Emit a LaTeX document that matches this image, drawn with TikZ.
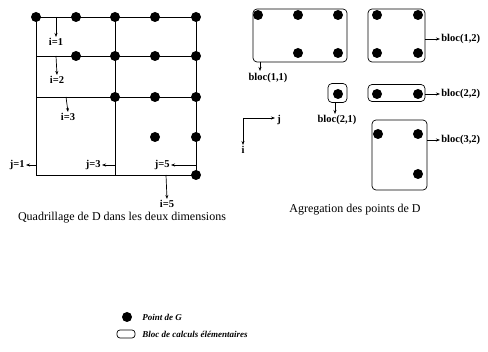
\documentclass[tikz,border=0pt]{standalone}
\usepackage{fontspec}
\setmainfont{Liberation Serif}
\usetikzlibrary{arrows.meta}

\begin{document}
\begin{tikzpicture}[x=1pt,y=-1pt,>={Stealth[length=4pt,width=3pt]},line width=0.7pt,
    blk/.style={draw,rounded corners=4pt,inner sep=0pt},
    lbl/.style={font=\bfseries\fontsize{10.5}{12}\selectfont,inner sep=1pt},
    captxt/.style={font=\fontsize{12}{14}\selectfont,inner sep=0pt},
    leg/.style={font=\bfseries\itshape\fontsize{9}{10}\selectfont,anchor=west,inner sep=0pt}]
    \useasboundingbox (0,0) rectangle (488,352);
    % quadrillage
    \draw (36,17) -- (196,17) -- (196,175) -- (36,175) -- cycle;
    \draw (36,56) -- (196,56);
    \draw (36,97) -- (196,97);
    \draw (115,17) -- (115,175);
    \foreach \x in {36,76,115,155,196} \fill (\x,17) circle (5);
    \foreach \x in {76,115,155,196} \fill (\x,56) circle (5);
    \foreach \x in {115,155,196} \fill (\x,97) circle (5);
    \foreach \x in {155,196} \fill (\x,137) circle (5);
    \fill (196,175) circle (5);
    \node[lbl] (i1) at (56,42) {i=1};
    \node[lbl] (i2) at (57,80) {i=2};
    \node[lbl] (i3) at (68,117) {i=3};
    \node[lbl] (i5) at (167,204) {i=5};
    \draw[->] (56,17) -- (i1.north);
    \draw[->] (56,56) -- (i2.north);
    \draw[->] (66,97) -- (i3.north);
    \draw[->] (166,175) -- (i5.north);
    \node[lbl,anchor=east] (j1) at (26,165) {j=1};
    \node[lbl,anchor=east] (j3) at (102,165) {j=3};
    \node[lbl,anchor=east] (j5) at (171,165) {j=5};
    \draw[->] (36,165) -- (j1.east);
    \draw[->] (115,165) -- (j3.east);
    \draw[->] (196,165) -- (j5.east);
    \node[captxt] (cq) at (122,218) {Quadrillage de D dans les deux dimensions};
    % agregation
    \node[blk,minimum width=94pt,minimum height=53pt] (b11) at (300,35.5) {};
    \node[blk,minimum width=57pt,minimum height=53pt] (b12) at (396.5,35.5) {};
    \node[blk,minimum width=19pt,minimum height=19pt] (b21) at (337.5,93) {};
    \node[blk,minimum width=57pt,minimum height=17pt] (b22) at (396.5,93) {};
    \node[blk,minimum width=55pt,minimum height=70pt] (b32) at (399.5,155) {};
    \foreach \x/\y in {258/15,298/15,338/15,298/53,338/53,377/15,418/15,377/53,418/53,
        338/94,377/94,418/94,378/134,418/134,418/174}
      \fill (\x,\y) circle (5);
    \node[lbl] (l11) at (268,78) {bloc(1,1)};
    \node[lbl,anchor=west] (l12) at (440,39) {bloc(1,2)};
    \node[lbl] (l21) at (337,120) {bloc(2,1)};
    \node[lbl,anchor=west] (l22) at (440,94) {bloc(2,2)};
    \node[lbl,anchor=west] (l32) at (440,140) {bloc(3,2)};
    \draw[->] (260,62) -- (260,71);
    \draw[->] (b12.east |- l12) -- (l12.west);
    \draw[->] (335,102.5) -- (335,114);
    \draw[->] (b22.east |- l22) -- (l22.west);
    \draw[->] (b32.east |- l32) -- (l32.west);
    \coordinate (o) at (243,118);
    \node[lbl] (j) at (279,120) {j};
    \node[lbl] (i) at (243,150) {i};
    \draw[->] (o) -- (275,118);
    \draw[->] (o) -- (i.north);
    \node[captxt] (ca) at (355,210) {Agregation des points de D};
    % legende
    \fill (127,317) circle (5);
    \node[leg] (lp) at (142,317) {Point de G};
    \draw[rounded corners=3pt] (117,330) rectangle (135,338);
    \node[leg] (lb) at (142,334) {Bloc de calculs élémentaires};
\end{tikzpicture}
\end{document}
